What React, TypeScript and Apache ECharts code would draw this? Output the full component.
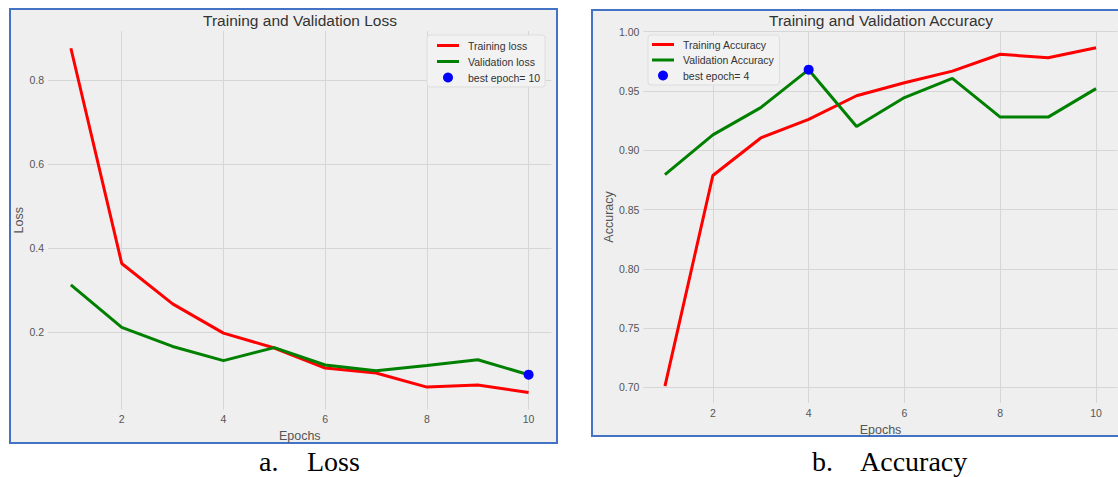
import React, { useEffect, useRef } from "react";
import * as echarts from "echarts";

const epochs = [1, 2, 3, 4, 5, 6, 7, 8, 9, 10];
const trainLoss = [0.876, 0.364, 0.268, 0.1985, 0.163, 0.1154, 0.1035, 0.07, 0.0748, 0.0574];
const valLoss = [0.313, 0.212, 0.1667, 0.133, 0.164, 0.1225, 0.109, 0.1216, 0.135, 0.0995];
const trainAcc = [0.701, 0.8787, 0.9104, 0.9261, 0.946, 0.957, 0.9668, 0.981, 0.978, 0.9865];
const valAcc = [0.8795, 0.913, 0.936, 0.968, 0.92, 0.9445, 0.9607, 0.928, 0.928, 0.952];
const bestLossEpoch = 10;
const bestAccEpoch = 4;

const FONT = "'Liberation Sans', Arial, sans-serif";
const SERIF = "'Liberation Serif', 'Times New Roman', serif";
const GRID_COLOR = "#d6d6d6";
const LABEL_COLOR = "#555";
const LINE_ICON = "path://M0 0H22V3H0Z";

const pairs = (ys: number[]) => epochs.map((e, i) => [e, ys[i]]);

function xAxisOpt(gridIndex: number, nameGap: number) {
  return {
    type: "value",
    gridIndex,
    min: 0.55,
    max: 10.45,
    splitNumber: 5,
    minInterval: 2,
    maxInterval: 2,
    name: "Epochs",
    nameLocation: "middle",
    nameGap,
    nameTextStyle: { fontSize: 12.5, color: LABEL_COLOR, fontFamily: FONT },
    axisLine: { show: false },
    axisTick: { show: false },
    axisLabel: {
      showMinLabel: false,
      showMaxLabel: false,
      margin: 4,
      fontSize: 10.5,
      color: LABEL_COLOR,
      fontFamily: FONT,
      formatter: (v: number) => String(Math.round(v)),
    },
    splitLine: {
      show: true,
      showMinLine: false,
      showMaxLine: false,
      lineStyle: { color: GRID_COLOR, width: 1 },
    },
  };
}

function yAxisOpt(gridIndex: number, min: number, max: number, name: string, nameGap: number, digits: number) {
  return {
    type: "value",
    gridIndex,
    min,
    max,
    splitNumber: 5,
    name,
    nameLocation: "middle",
    nameGap,
    nameRotate: 90,
    nameTextStyle: { fontSize: 12.5, color: LABEL_COLOR, fontFamily: FONT },
    axisLine: { show: false },
    axisTick: { show: false },
    axisLabel: {
      showMinLabel: false,
      showMaxLabel: false,
      margin: 4,
      fontSize: 10.5,
      color: LABEL_COLOR,
      fontFamily: FONT,
      formatter: (v: number) => v.toFixed(digits),
    },
    splitLine: {
      show: true,
      showMinLine: false,
      showMaxLine: false,
      lineStyle: { color: GRID_COLOR, width: 1 },
    },
  };
}

function legendOpt(left: number, top: number, padding: number[], itemGap: number, names: string[]) {
  return {
    orient: "vertical",
    left,
    top,
    padding,
    itemGap,
    itemWidth: 22,
    itemHeight: 10,
    backgroundColor: "#f2f2f2",
    borderColor: "#dddddd",
    borderWidth: 1,
    borderRadius: 3,
    textStyle: { fontSize: 10.5, color: "#333", fontFamily: FONT, lineHeight: 13, padding: [0, 0, 0, 4] },
    data: [
      { name: names[0], icon: LINE_ICON },
      { name: names[1], icon: LINE_ICON },
      { name: names[2], icon: "circle" },
    ],
  };
}

export default function App() {
  const ref = useRef<HTMLDivElement>(null);

  useEffect(() => {
    if (!ref.current) return;
    const chart = echarts.init(ref.current, null, { renderer: "svg" });

    const lossNames = ["Training loss", "Validation loss", "best epoch= " + bestLossEpoch];
    const accNames = ["Training Accuracy", "Validation Accuracy", "best epoch= " + bestAccEpoch];

    const lineSeries = (name: string, data: number[], color: string, axis: number, z: number) => ({
      name, type: "line", xAxisIndex: axis, yAxisIndex: axis,
      data: pairs(data), symbol: "none", color,
      itemStyle: { color, opacity: 1 },
      lineStyle: { width: 3, color }, z,
    });
    const bestSeries = (name: string, epoch: number, vals: number[], axis: number) => ({
      name, type: "scatter", xAxisIndex: axis, yAxisIndex: axis,
      data: [[epoch, vals[epoch - 1]]], symbolSize: 10,
      itemStyle: { color: "#0000ff", opacity: 1 }, color: "#0000ff", z: 5,
    });

    chart.setOption({
      animation: false,
      backgroundColor: "#ffffff",
      textStyle: { fontFamily: FONT },
      grid: [
        { left: 48, top: 31, width: 503.5, height: 378.6 },
        { left: 643.4, top: 30.8, width: 474.2, height: 372.3 },
      ],
      xAxis: [xAxisOpt(0, 11), xAxisOpt(1, 8)],
      yAxis: [
        yAxisOpt(0, 0.0165, 0.917, "Loss", 17, 1),
        yAxisOpt(1, 0.6867, 1.0008, "Accuracy", 19, 2),
      ],
      legend: [
        legendOpt(427, 35, [4, 5, 3, 10], 3, lossNames),
        legendOpt(648, 35, [3, 5, 3, 4], 2.5, accNames),
      ],
      series: [
        lineSeries(lossNames[0], trainLoss, "#ff0000", 0, 3),
        lineSeries(lossNames[1], valLoss, "#008000", 0, 4),
        bestSeries(lossNames[2], bestLossEpoch, valLoss, 0),
        lineSeries(accNames[0], trainAcc, "#ff0000", 1, 3),
        lineSeries(accNames[1], valAcc, "#008000", 1, 4),
        bestSeries(accNames[2], bestAccEpoch, valAcc, 1),
      ],
      graphic: {
        elements: [
          {
            type: "rect", z: -10, silent: true,
            shape: { x: 10, y: 9, width: 547, height: 434 },
            style: { fill: "#efefef", stroke: "#4472c4", lineWidth: 2 },
          },
          {
            type: "rect", z: -10, silent: true,
            shape: { x: 592, y: 10, width: 600, height: 426 },
            style: { fill: "#efefef", stroke: "#4472c4", lineWidth: 2 },
          },
          {
            type: "text", x: 300, y: 20,
            style: { text: "Training and Validation Loss", fontSize: 15.5, fill: "#333", fontFamily: FONT, textAlign: "center", textVerticalAlign: "middle" },
          },
          {
            type: "text", x: 881, y: 20,
            style: { text: "Training and Validation Accuracy", fontSize: 15.5, fill: "#333", fontFamily: FONT, textAlign: "center", textVerticalAlign: "middle" },
          },
          {
            type: "text", x: 259, y: 461,
            style: { text: "a.", fontSize: 28, fill: "#000", fontFamily: SERIF, textAlign: "left", textVerticalAlign: "middle" },
          },
          {
            type: "text", x: 307, y: 461,
            style: { text: "Loss", fontSize: 28, fill: "#000", fontFamily: SERIF, textAlign: "left", textVerticalAlign: "middle" },
          },
          {
            type: "text", x: 812, y: 461,
            style: { text: "b.", fontSize: 28, fill: "#000", fontFamily: SERIF, textAlign: "left", textVerticalAlign: "middle" },
          },
          {
            type: "text", x: 860, y: 461,
            style: { text: "Accuracy", fontSize: 28, fill: "#000", fontFamily: SERIF, textAlign: "left", textVerticalAlign: "middle" },
          },
        ],
      },
    });

    return () => chart.dispose();
  }, []);

  return (
    <div
      ref={ref}
      style={{ position: "absolute", left: 0, top: 0, width: 1118, height: 477 }}
    />
  );
}
